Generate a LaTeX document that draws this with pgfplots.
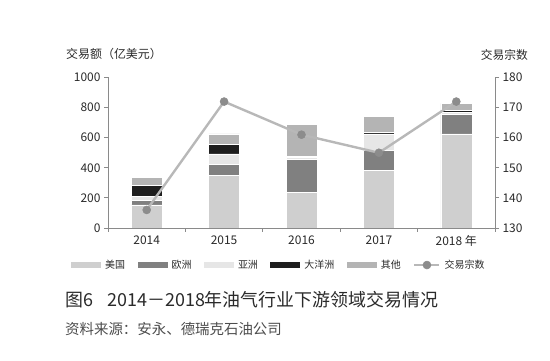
\documentclass[border=0pt]{standalone}
\usepackage{fontspec}
\setmainfont{Noto Sans CJK SC}
\usepackage{pgfplots}
\pgfplotsset{compat=1.18}
\definecolor{usa}{HTML}{CFCFCF}
\definecolor{eur}{HTML}{808080}
\definecolor{asia}{HTML}{E6E6E6}
\definecolor{oce}{HTML}{1E1E1E}
\definecolor{oth}{HTML}{B4B4B4}
\definecolor{linec}{HTML}{B8B8B8}
\definecolor{markc}{HTML}{8C8C8C}
\definecolor{axisgray}{HTML}{8A8A8A}
\definecolor{textcol}{HTML}{2A2A2A}
\pgfplotsset{
  mylegend/.style={legend image code/.code={\path[##1, draw=none] (0bp,-3bp) rectangle (30bp,3bp);}},
  linelegend/.style={legend image code/.code={\draw[##1,mark repeat=2,mark phase=2] plot coordinates {(0bp,0bp) (12.5bp,0bp) (25bp,0bp)};}},
  common/.style={
    scale only axis, width=387bp, height=150.5bp,
    at={(108bp,133bp)}, anchor=south west,
    xmin=-0.5, xmax=4.5,
    tick align=outside, major tick length=4bp, minor tick length=4bp,
    axis line style={draw=axisgray, line width=0.8bp, -},
    tick style={draw=axisgray, line width=0.8bp},
    ticklabel style={font=\fontsize{12}{12}\selectfont, text=textcol},
    /pgf/number format/assume math mode=true,
    /pgf/number format/1000 sep={},
  }
}
\begin{document}
\begin{tikzpicture}
\useasboundingbox (0,0) rectangle (550bp,361bp);
\begin{axis}[common,
  ymin=0, ymax=1000,
  ybar stacked, bar width=31bp,
  axis x line*=bottom, axis y line*=left,
  ytick={0,200,...,1000},
  xtick={0,...,4}, xticklabels={2014,2015,2016,2017,2018 年},
  major x tick style={draw=none},
  minor xtick={-0.5,0.5,...,4.5},
]
\addplot[fill=usa, draw=white, line width=0.6bp] coordinates {(0,153) (1,347) (2,237) (3,385) (4,625)};
\addplot[fill=eur, draw=white, line width=0.6bp] coordinates {(0,28) (1,78) (2,221) (3,129) (4,128)};
\addplot[fill=asia, draw=white, line width=0.6bp] coordinates {(0,30) (1,67) (2,10) (3,111) (4,15)};
\addplot[fill=oce, draw=white, line width=0.6bp] coordinates {(0,70) (1,66) (2,8) (3,8) (4,16)};
\addplot[fill=oth, draw=white, line width=0.6bp] coordinates {(0,53) (1,67) (2,210) (3,109) (4,44)};
\end{axis}
\begin{axis}[common,
  ymin=130, ymax=180,
  axis x line=none, axis y line*=right,
  ytick={130,140,...,180},
  legend columns=6,
  legend style={at={(0.444,-0.246)}, anchor=center, draw=none, fill=none,
    font=\fontsize{10}{10}\selectfont, text=textcol,
    nodes={inner xsep=4bp},
    /tikz/every even column/.append style={column sep=8.5bp}},
]
\addlegendimage{mylegend, fill=usa}
\addlegendentry{美国}
\addlegendimage{mylegend, fill=eur}
\addlegendentry{欧洲}
\addlegendimage{mylegend, fill=asia}
\addlegendentry{亚洲}
\addlegendimage{mylegend, fill=oce}
\addlegendentry{大洋洲}
\addlegendimage{mylegend, fill=oth}
\addlegendentry{其他}
\addplot[linelegend, color=linec, line width=2.4bp, mark=*, mark size=4bp,
  mark options={fill=markc, draw=markc, line width=0.5bp}]
  coordinates {(0,136) (1,172) (2,161) (3,155) (4,172)};
\addlegendentry{交易宗数}
\end{axis}
\node[anchor=west, text=textcol, font=\fontsize{12}{12}\selectfont, inner sep=0] at (66bp,307bp) {交易额（亿美元）};
\node[anchor=east, text=textcol, font=\fontsize{11.8}{11.8}\selectfont, inner sep=0] at (528bp,306bp) {交易宗数};
\node[anchor=west, text=textcol, font=\fontsize{18}{18}\selectfont, inner sep=0] at (65bp,61.5bp) {图6\hspace{0.8em}2014－2018年油气行业下游领域交易情况};
\node[anchor=west, text=black!70, font=\fontsize{14.5}{14.5}\selectfont, inner sep=0] at (65bp,32bp) {资料来源：安永、德瑞克石油公司};
\end{tikzpicture}
\end{document}
